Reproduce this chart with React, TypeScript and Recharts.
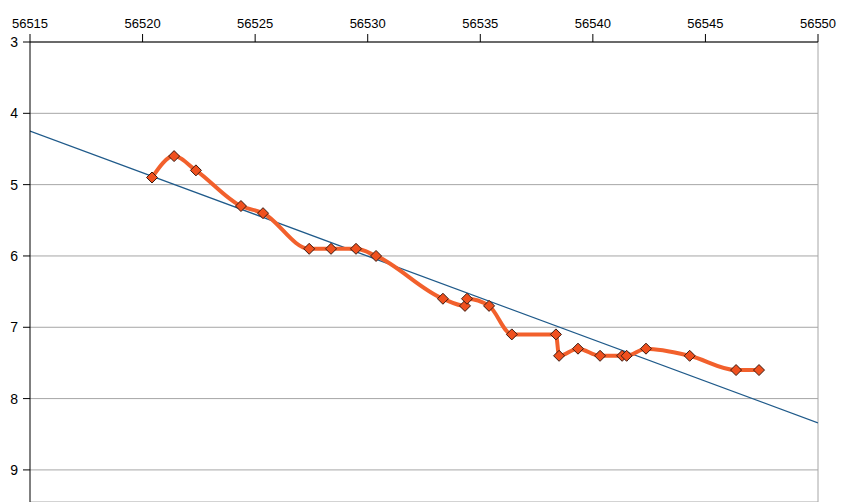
import React from 'react';
import {
  ComposedChart,
  Line,
  XAxis,
  YAxis,
  CartesianGrid,
  ReferenceLine,
} from 'recharts';

// observation dates (x) and measured values (y)
const xValues = [
  56520.42, 56521.4, 56522.37, 56524.37, 56525.35, 56527.4, 56528.37, 56529.48,
  56530.37, 56533.34, 56534.32, 56534.41, 56535.39, 56536.4, 56538.36, 56538.5,
  56539.34, 56540.32, 56541.3, 56541.5, 56542.36, 56544.3, 56546.36, 56547.38,
];
const yValues = [
  4.9, 4.6, 4.8, 5.3, 5.4, 5.9, 5.9, 5.9,
  6.0, 6.6, 6.7, 6.6, 6.7, 7.1, 7.1, 7.4,
  7.3, 7.4, 7.4, 7.4, 7.3, 7.4, 7.6, 7.6,
];

// linear trend end points
const trendX = [56515, 56550];
const trendY = [4.25, 8.34];

const xTicks = [56515, 56520, 56525, 56530, 56535, 56540, 56545, 56550];
const yTicks = [3, 4, 5, 6, 7, 8, 9];

const seriesData = xValues.map((x, i) => ({ x, y: yValues[i] }));
const trendData = trendX.map((x, i) => ({ x, t: trendY[i] }));

const Diamond = (props: any) => {
  const { cx, cy } = props;
  if (cx == null || cy == null) return null;
  const r = 5.5;
  return (
    <path
      d={`M${cx},${cy - r} L${cx + r},${cy} L${cx},${cy + r} L${cx - r},${cy} Z`}
      fill="#f0501e"
      stroke="#3a1a10"
      strokeWidth={1}
    />
  );
};

const tickStyle = { fontFamily: 'Arial, "Liberation Sans", sans-serif', fill: '#000' };

export default function App() {
  return (
    <div style={{ position: 'absolute', left: 0, top: 0, width: 842, height: 502, background: '#fff' }}>
      <ComposedChart
        width={842}
        height={502}
        margin={{ top: 0, right: 24, bottom: 0, left: 0 }}
      >
        <CartesianGrid vertical={false} stroke="#a6a6a6" />
        <XAxis
          type="number"
          dataKey="x"
          orientation="top"
          domain={[56515, 56550]}
          ticks={xTicks}
          height={42}
          stroke="#000"
          tickSize={8}
          tickMargin={6}
          tick={{ ...tickStyle, fontSize: 13 }}
          allowDataOverflow
        />
        <YAxis
          type="number"
          reversed
          domain={[3, 9.45]}
          ticks={yTicks}
          width={30}
          stroke="#000"
          tickSize={7}
          tickMargin={5}
          tick={{ ...tickStyle, fontSize: 14 }}
          allowDataOverflow
        />
        <ReferenceLine x={56550} stroke="#a6a6a6" />
        <Line
          data={trendData}
          dataKey="t"
          type="linear"
          stroke="#1f5a8a"
          strokeWidth={1.3}
          dot={false}
          isAnimationActive={false}
        />
        <Line
          data={seriesData}
          dataKey="y"
          type="monotone"
          stroke="#f2602c"
          strokeWidth={4}
          dot={<Diamond />}
          isAnimationActive={false}
        />
      </ComposedChart>
    </div>
  );
}
